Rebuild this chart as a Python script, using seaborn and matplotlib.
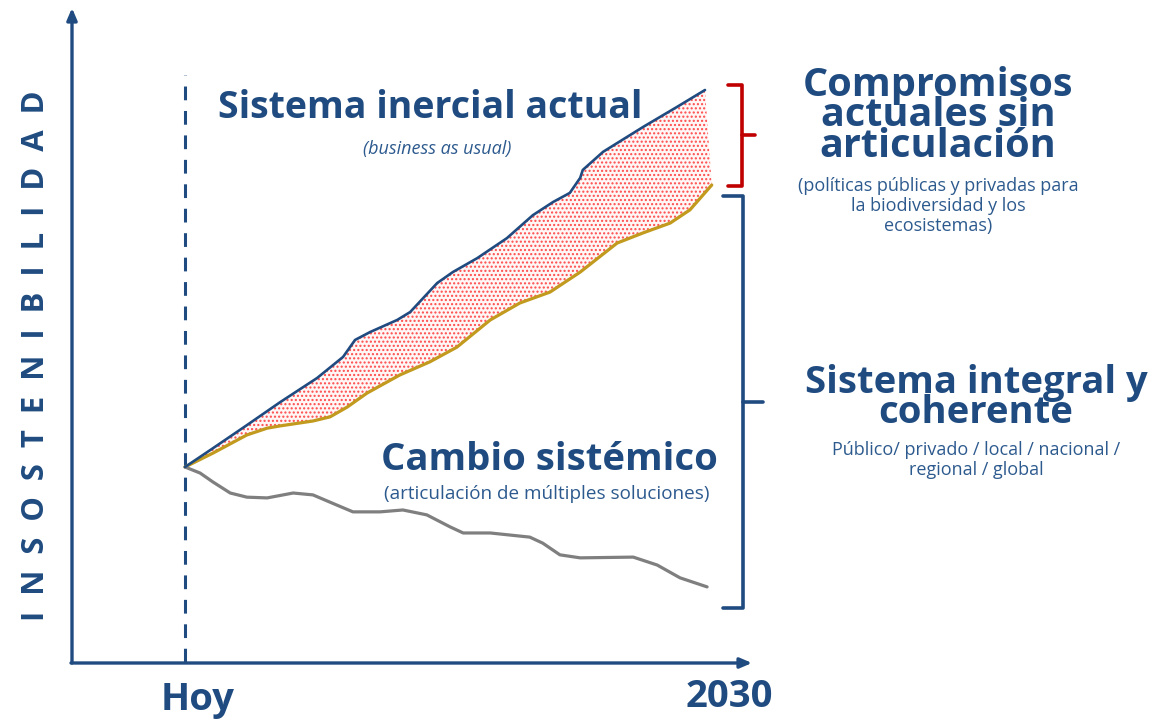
import numpy as np
import pandas as pd
import matplotlib
matplotlib.use('Agg')
import matplotlib.pyplot as plt
import seaborn as sns

# years from "Hoy" (0) to 2030 (10), insostenibility index (start = 0)
t_inercial = [0, 0.54, 1.19, 1.83, 2.54, 3.04, 3.27, 3.56, 4.08, 4.33, 4.58, 4.85, 5.15,
              5.62, 6.19, 6.69, 7.08, 7.40, 7.60, 7.65, 8.04, 8.81, 9.46, 10.0]
v_inercial = [0, 5.0, 11.1, 17.2, 23.6, 29.2, 33.7, 35.8, 39.0, 41.1, 44.8, 48.8, 51.7,
              55.4, 60.7, 66.8, 70.3, 72.7, 76.7, 78.8, 83.6, 90.2, 95.5, 100.0]

t_compromisos = [0, 0.54, 1.19, 1.58, 1.83, 2.46, 2.79, 3.12, 3.50, 3.88, 4.13, 4.71, 5.23,
                 5.87, 6.44, 7.02, 7.60, 8.31, 8.81, 9.33, 9.71, 10.13]
v_compromisos = [0, 3.7, 8.5, 10.3, 10.9, 12.2, 13.3, 15.9, 19.6, 22.5, 24.4, 27.9, 31.8,
                 39.0, 43.5, 46.4, 51.7, 59.4, 62.1, 64.7, 68.2, 74.8]

t_cambio = [0, 0.29, 0.54, 0.87, 1.19, 1.58, 2.08, 2.46, 2.92, 3.23, 3.75, 4.19, 4.65, 5.10,
            5.35, 5.87, 6.63, 6.88, 7.21, 7.60, 8.62, 9.08, 9.52, 10.04]
v_cambio = [0, -1.6, -4.0, -6.9, -8.0, -8.2, -6.9, -7.4, -10.1, -11.9, -11.9, -11.4, -12.7,
            -15.9, -17.5, -17.5, -18.6, -20.2, -23.3, -24.1, -23.9, -26.0, -29.4, -31.8]

x_labels = ['Hoy', '2030']
y_label = 'INSOSTENIBILIDAD'

AZUL = '#1f4b80'
AZUL2 = '#2d5a8e'
ROJO = '#c00000'
ORO = '#c19a1e'
GRIS = '#7f7f7f'

W, H = 1151, 721
sns.set_style('white')
plt.rcParams['font.family'] = ['Open Sans', 'DejaVu Sans']
plt.rcParams['hatch.linewidth'] = 1.0

fig = plt.figure(figsize=(W / 100, H / 100), dpi=100)
ax = fig.add_axes([0, 0, 1, 1])
# 52 px per year, origin at x=185 px; 3.77 px per index unit, origin at y=467 px
ax.set_xlim(-185 / 52, (W - 185) / 52)
ax.set_ylim((467 - H) / 3.77, 467 / 3.77)
ax.set_axis_off()


def fx(px):
    return px / W


def fy(py):
    return 1 - py / H


# red dotted area between the two upper curves
ax.fill(np.r_[t_inercial, t_compromisos[::-1]], np.r_[v_inercial, v_compromisos[::-1]],
        facecolor='#fff6f6', edgecolor='#ff4a4a', hatch='....', lw=0, zorder=1)

line_kw = dict(sort=False, estimator=None, ax=ax, solid_joinstyle='round',
               solid_capstyle='round')
sns.lineplot(x=t_compromisos, y=v_compromisos, color=ORO, lw=2.3, zorder=3, **line_kw)
sns.lineplot(x=t_inercial, y=v_inercial, color=AZUL, lw=1.9, zorder=4, **line_kw)
sns.lineplot(x=t_cambio, y=v_cambio, color=GRIS, lw=2.3, zorder=3, **line_kw)

# dashed "Hoy" line
ax.plot([0, 0], [(467 - 662) / 3.77, (467 - 75) / 3.77], color=AZUL, lw=2.2,
        dashes=(4.5, 3.5), zorder=2)

# axes with arrows
arrow = dict(arrowstyle='-|>,head_length=0.7,head_width=0.3', color=AZUL, lw=2.4,
             shrinkA=0, shrinkB=0)
ax.annotate('', xy=(fx(72), fy(8)), xytext=(fx(72), fy(663)),
            xycoords='figure fraction', textcoords='figure fraction', arrowprops=arrow)
ax.annotate('', xy=(fx(752), fy(663)), xytext=(fx(71), fy(663)),
            xycoords='figure fraction', textcoords='figure fraction', arrowprops=arrow)

fig.text(fx(198), fy(700), x_labels[0], ha='center', va='center', fontsize=27.5,
         fontweight='bold', color=AZUL)
fig.text(fx(729), fy(697), x_labels[1], ha='center', va='center', fontsize=27.5,
         fontweight='bold', color=AZUL)
fig.text(fx(36), fy(356), '  '.join(y_label), rotation=90, ha='center', va='center',
         fontsize=22.3, fontweight='bold', color=AZUL)

# curve labels
fig.text(fx(430), fy(108), 'Sistema inercial actual', ha='center', va='center',
         fontsize=27, fontweight='bold', color=AZUL)
fig.text(fx(437), fy(149), '(business as usual)', ha='center', va='center',
         fontsize=13, color=AZUL2, style='italic')
fig.text(fx(549), fy(460), 'Cambio sistémico', ha='center', va='center',
         fontsize=27.5, fontweight='bold', color=AZUL)
fig.text(fx(547), fy(494), '(articulación de múltiples soluciones)', ha='center',
         va='center', fontsize=13.6, color=AZUL2)

# right-hand brackets
ax.plot([fx(728), fx(742), fx(742), fx(728)], [fy(85), fy(85), fy(186), fy(186)],
        transform=fig.transFigure, color=ROJO, lw=2.6, solid_joinstyle='round', clip_on=False)
ax.plot([fx(742), fx(755)], [fy(135), fy(135)], transform=fig.transFigure,
        color=ROJO, lw=2.6, clip_on=False)
ax.plot([fx(723), fx(743), fx(743), fx(723)], [fy(196), fy(196), fy(608), fy(608)],
        transform=fig.transFigure, color=AZUL, lw=2.6, solid_joinstyle='round', clip_on=False)
ax.plot([fx(743), fx(763)], [fy(402), fy(402)], transform=fig.transFigure,
        color=AZUL, lw=2.6, clip_on=False)

fig.text(fx(938), fy(116), 'Compromisos\nactuales sin\narticulación', ha='center',
         va='center', fontsize=28.5, fontweight='bold', color=AZUL, linespacing=0.72)
fig.text(fx(938), fy(206), '(políticas públicas y privadas para\nla biodiversidad y los\necosistemas)',
         ha='center', va='center', fontsize=13, color=AZUL2, linespacing=1.15)
fig.text(fx(976), fy(398), 'Sistema integral y\ncoherente', ha='center', va='center',
         fontsize=27.5, fontweight='bold', color=AZUL, linespacing=0.75)
fig.text(fx(976), fy(460), 'Público/ privado / local / nacional /\nregional / global',
         ha='center', va='center', fontsize=13, color=AZUL2, linespacing=1.2)

plt.savefig('out.png', dpi=100)
